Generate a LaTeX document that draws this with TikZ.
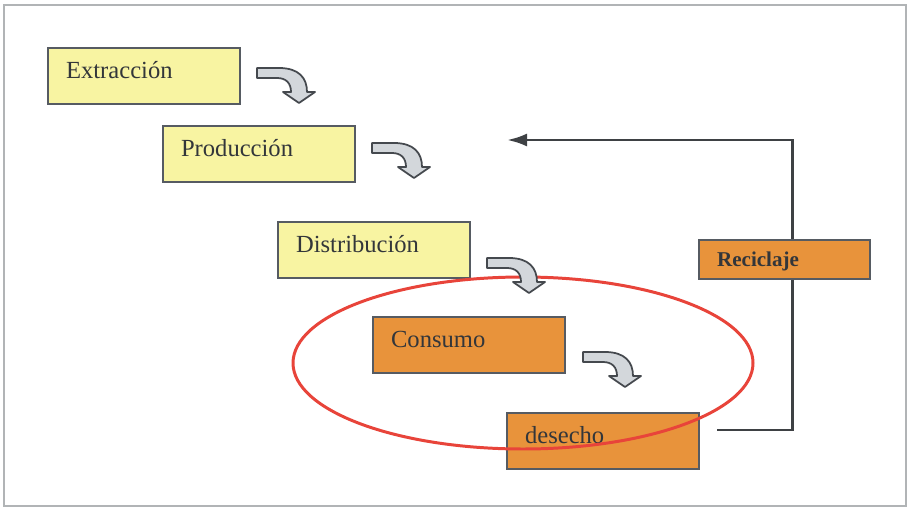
\documentclass[tikz,border=0pt]{standalone}
\usepackage{fontspec}
\setmainfont{Liberation Serif}
\usetikzlibrary{arrows.meta}

\definecolor{amarillo}{HTML}{F8F4A2}
\definecolor{naranja}{HTML}{E8933B}
\definecolor{borde}{HTML}{565B62}
\definecolor{tinta}{HTML}{33363A}
\definecolor{rojo}{HTML}{E8443A}
\definecolor{gris}{HTML}{D3D7DB}

\tikzset{
  caja/.style={draw=borde, line width=1.2pt, anchor=north west, align=left,
    inner xsep=0.36cm, text width=3.84cm-0.72cm, minimum height=1.12cm,
    text depth=0.24cm, font=\fontsize{14}{16}\selectfont, text=tinta},
  etapa/.style={caja, fill=amarillo},
  final/.style={caja, fill=naranja},
  flecha/.style={draw=borde!80!black, line width=1pt, fill=gris, line join=round},
  giro/.pic={
    \draw[flecha] (0,0) -- (22,0) .. controls (42,0) and (50,10) .. (50,24)
      -- (58,24) -- (42,35) -- (26,24) -- (34,24)
      .. controls (34,15) and (29,10) .. (20,10) -- (0,10) -- cycle;
  }
}

\begin{document}
\begin{tikzpicture}[x=0.02cm, y=-0.02cm]
\useasboundingbox (0,0) rectangle (912,510);
\draw[gris!60!gray, line width=1.5pt] (4,5) rectangle (906,506);

\node[etapa] (extr) at (47,47) {Extracción};
\node[etapa] (prod) at (162,125) {Producción};
\node[etapa] (dist) at (277,221) {Distribución};
\node[final] (cons) at (372,316) {Consumo};
\node[final] (des) at (506,412) {desecho};

\coordinate (esquina) at (792,430);
\coordinate (retorno) at (507,140);
\draw[tinta!85!gray, line width=1.7pt, -{Latex[length=0.4cm, width=0.26cm]}]
  (esquina -| des.east) ++(17,0) -- (esquina) |- (retorno);

\node[caja, fill=naranja, text width=3.42cm-0.72cm, minimum height=0.78cm,
  text depth=0cm, font=\fontsize{12}{14}\selectfont\bfseries] (recic) at (698,239) {Reciclaje};

\draw[rojo, line width=1.7pt] (523,363) ellipse (230 and 86);

\pic at (257,68) {giro};
\pic at (372,143) {giro};
\pic at (487,258) {giro};
\pic at (583,352) {giro};
\end{tikzpicture}
\end{document}
